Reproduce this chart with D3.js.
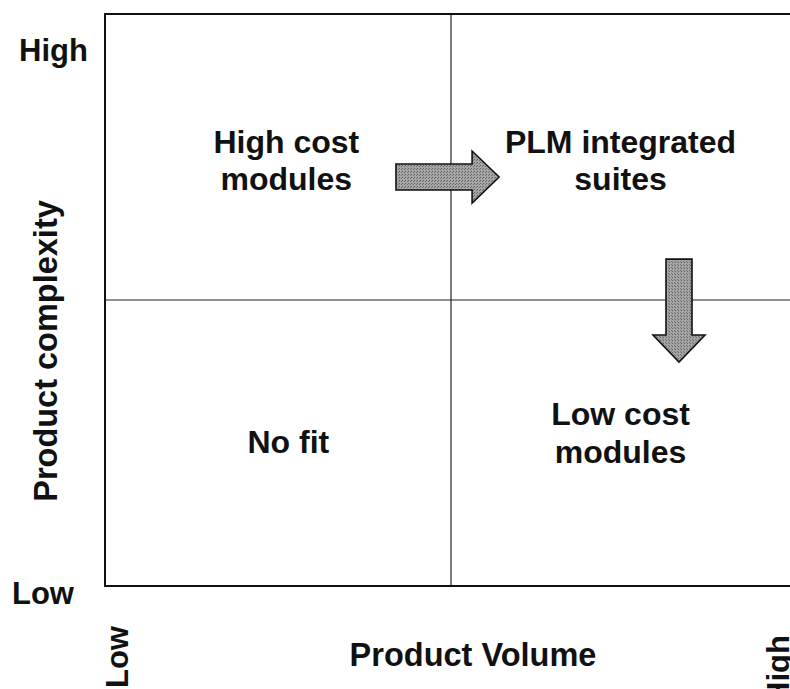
<!DOCTYPE html>
<html>
<head>
<meta charset="utf-8">
<script src="https://cdn.jsdelivr.net/npm/d3@7"></script>
<style>
  html, body { margin: 0; padding: 0; background: #fff; }
  text { font-family: "Liberation Sans", Arial, sans-serif; font-weight: bold; fill: #111; }
</style>
</head>
<body>
<div id="chart"></div>
<script>
// axis labels and tick labels
const xTitle = "Product Volume";
const yTitle = "Product complexity";
const xTicks = ["Low", "High"];
const yTicks = ["Low", "High"];

// quadrant labels: centre in matrix units (0..2), lines
const quadLabels = [
  { x: 0.524, y: 1.488, lines: ["High cost", "modules"] },
  { x: 1.49, y: 1.488, lines: ["PLM integrated", "suites"] },
  { x: 0.53, y: 0.503, lines: ["No fit"] },
  { x: 1.49, y: 0.535, lines: ["Low cost", "modules"] }
];

// arrows in matrix units: from -> to
const arrows = [
  { from: [0.841, 1.430], to: [1.139, 1.430] },
  { from: [1.659, 1.143], to: [1.659, 0.783] }
];

const width = 790, height = 689;
const svg = d3.select("#chart").append("svg")
  .attr("width", width)
  .attr("height", height);

const x = d3.scaleLinear().domain([0, 2]).range([105, 797]);
const y = d3.scaleLinear().domain([0, 2]).range([586, 14]);

// textured fill for the arrows
const defs = svg.append("defs");
const pat = defs.append("pattern")
  .attr("id", "dots")
  .attr("width", 3).attr("height", 3)
  .attr("patternUnits", "userSpaceOnUse");
pat.append("rect").attr("width", 3).attr("height", 3).attr("fill", "#a6a6a6");
pat.append("rect").attr("width", 1).attr("height", 1).attr("fill", "#5a5a5a");
pat.append("rect").attr("x", 2).attr("y", 1).attr("width", 1).attr("height", 1).attr("fill", "#6e6e6e");

// dividers
svg.append("line")
  .attr("x1", x(1)).attr("x2", x(1))
  .attr("y1", y(2)).attr("y2", y(0))
  .attr("stroke", "#222").attr("stroke-width", 1.2);
svg.append("line")
  .attr("x1", x(0)).attr("x2", x(2))
  .attr("y1", y(1)).attr("y2", y(1))
  .attr("stroke", "#222").attr("stroke-width", 1.2);

// frame (top, left, bottom - right side runs off the page)
svg.append("path")
  .attr("d", `M${x(2)},${y(2)} L${x(0)},${y(2)} L${x(0)},${y(0)} L${x(2)},${y(0)}`)
  .attr("fill", "none")
  .attr("stroke", "#111")
  .attr("stroke-width", 2);

// block arrows
const bodyHalf = 13, headHalf = 26, headLen = 27;
function arrowPath(a) {
  const x0 = x(a.from[0]), y0 = y(a.from[1]);
  const x1 = x(a.to[0]), y1 = y(a.to[1]);
  const len = Math.hypot(x1 - x0, y1 - y0);
  const ang = Math.atan2(y1 - y0, x1 - x0) * 180 / Math.PI;
  const b = len - headLen;
  const pts = [[0, -bodyHalf], [b, -bodyHalf], [b, -headHalf], [len, 0],
               [b, headHalf], [b, bodyHalf], [0, bodyHalf]];
  return { d: "M" + pts.map(p => p.join(",")).join("L") + "Z",
           t: `translate(${x0},${y0}) rotate(${ang})` };
}
svg.selectAll(".arrow")
  .data(arrows)
  .join("path")
  .attr("class", "arrow")
  .attr("d", d => arrowPath(d).d)
  .attr("transform", d => arrowPath(d).t)
  .attr("fill", "url(#dots)")
  .attr("stroke", "#111")
  .attr("stroke-width", 1.6)
  .attr("stroke-linejoin", "miter");

// quadrant labels
const lineGap = 37.5;
const ql = svg.selectAll(".quad")
  .data(quadLabels)
  .join("text")
  .attr("class", "quad")
  .attr("text-anchor", "middle")
  .attr("font-size", 32);
ql.selectAll("tspan")
  .data(d => d.lines.map((l, i) => ({ l, i, d })))
  .join("tspan")
  .attr("x", t => x(t.d.x))
  .attr("y", t => y(t.d.y) + 11 + (t.i - (t.d.lines.length - 1) / 2) * lineGap)
  .text(t => t.l);

// y tick labels
svg.append("text")
  .attr("x", 19).attr("y", y(2) + 47)
  .attr("font-size", 31)
  .text(yTicks[1]);
svg.append("text")
  .attr("x", 12).attr("y", y(0) + 18)
  .attr("font-size", 31)
  .text(yTicks[0]);

// x tick labels, rotated
svg.append("text")
  .attr("transform", `translate(${x(0) + 23},688) rotate(-90)`)
  .attr("font-size", 31)
  .text(xTicks[0]);
svg.append("text")
  .attr("transform", `translate(${x(2) - 8},704) rotate(-90)`)
  .attr("font-size", 31)
  .text(xTicks[1]);

// axis titles
svg.append("text")
  .attr("x", 473).attr("y", 666)
  .attr("text-anchor", "middle")
  .attr("font-size", 32.5)
  .text(xTitle);
svg.append("text")
  .attr("transform", `translate(57,351) rotate(-90)`)
  .attr("text-anchor", "middle")
  .attr("font-size", 32.5)
  .text(yTitle);
</script>
</body>
</html>
